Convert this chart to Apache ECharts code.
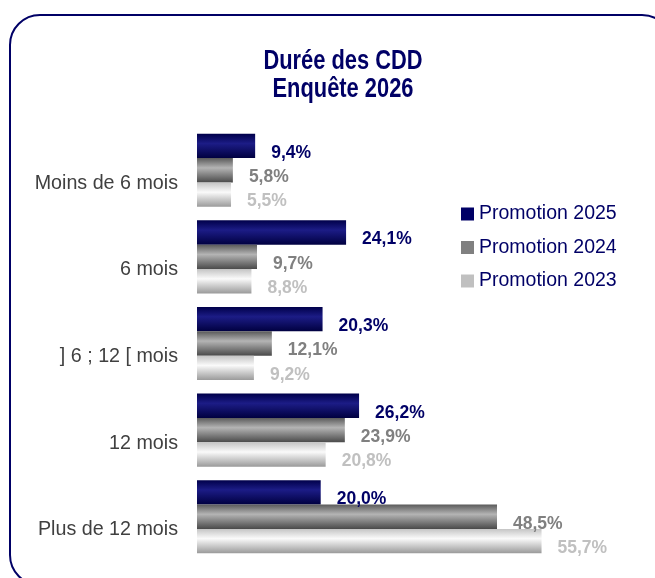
<!DOCTYPE html>
<html>
<head>
<meta charset="utf-8">
<script src="https://cdn.jsdelivr.net/npm/echarts@6/dist/echarts.min.js"></script>
<style>
  html, body { margin: 0; padding: 0; background: #fff; }
  #chart { width: 655px; height: 578px; }
</style>
</head>
<body>
<div id="chart"></div>
<script>
const categories = ["Moins de 6 mois", "6 mois", "] 6 ; 12 [ mois", "12 mois", "Plus de 12 mois"];
const promo2025 = [9.4, 24.1, 20.3, 26.2, 20.0];
const promo2024 = [5.8, 9.7, 12.1, 23.9, 48.5];
const promo2023 = [5.5, 8.8, 9.2, 20.8, 55.7];
const seriesNames = ["Promotion 2025", "Promotion 2024", "Promotion 2023"];
const titleLines = ["Durée des CDD", "Enquête 2026"];

const myChart = echarts.init(document.getElementById("chart"));

const grad = (a, b, c) =>
  new echarts.graphic.LinearGradient(0, 0, 0, 1, [
    { offset: 0, color: a },
    { offset: 0.4, color: b },
    { offset: 1, color: c },
  ]);

const fmt = (p) => p.value.toFixed(1).replace(".", ",") + "%";

const makeSeries = (name, data, fill, labelColor) => ({
  name: name,
  type: "bar",
  data: data,
  barGap: "0%",
  barCategoryGap: "15.6%",
  itemStyle: { color: fill },
  label: {
    show: true,
    position: "right",
    distance: 16,
    offset: [0, 7],
    formatter: fmt,
    color: labelColor,
    fontFamily: "Liberation Sans",
    fontWeight: "bold",
    fontSize: 17.5,
  },
});

const option = {
  backgroundColor: "#fff",
  animation: false,
  graphic: [
    {
      type: "rect",
      shape: { x: 10, y: 15, width: 662, height: 570, r: 30 },
      style: { fill: "none", stroke: "#000066", lineWidth: 2 },
      z: -1,
    },
    {
      // condensed bold title (narrow face not installed)
      type: "text",
      x: 343,
      y: 48,
      scaleX: 0.81,
      style: {
        text: titleLines.join("\n"),
        align: "center",
        verticalAlign: "top",
        fill: "#000066",
        font: "bold 27px 'Liberation Sans', Arial, sans-serif",
        lineHeight: 28,
      },
    },
  ],
  legend: {
    orient: "vertical",
    left: 456,
    top: 199,
    itemWidth: 13,
    itemHeight: 13,
    itemGap: 13.5,
    icon: "rect",
    textStyle: { color: "#000066", fontFamily: "Liberation Sans", fontSize: 19.5, lineHeight: 20 },
    data: [
      { name: seriesNames[0], itemStyle: { color: "#000066" } },
      { name: seriesNames[1], itemStyle: { color: "#808080" } },
      { name: seriesNames[2], itemStyle: { color: "#c0c0c0" } },
    ],
  },
  grid: { left: 197, right: 25, top: 127, bottom: 18 },
  xAxis: {
    type: "value",
    min: 0,
    max: 70,
    show: false,
  },
  yAxis: {
    type: "category",
    inverse: true,
    data: categories,
    axisLine: { show: false },
    axisTick: { show: false },
    axisLabel: {
      margin: 19,
      color: "#404040",
      fontFamily: "Liberation Sans",
      fontSize: 19.7,
      verticalAlign: "top",
      padding: [3, 0, 0, 0],
    },
  },
  series: [
    makeSeries(seriesNames[0], promo2025, grad("#00004a", "#1c1c86", "#000040"), "#000066"),
    makeSeries(seriesNames[1], promo2024, grad("#5a5a5a", "#b4b4b4", "#4a4a4a"), "#808080"),
    makeSeries(seriesNames[2], promo2023, grad("#c4c4c4", "#fafafa", "#9a9a9a"), "#c0c0c0"),
  ],
};

myChart.setOption(option);
</script>
</body>
</html>
